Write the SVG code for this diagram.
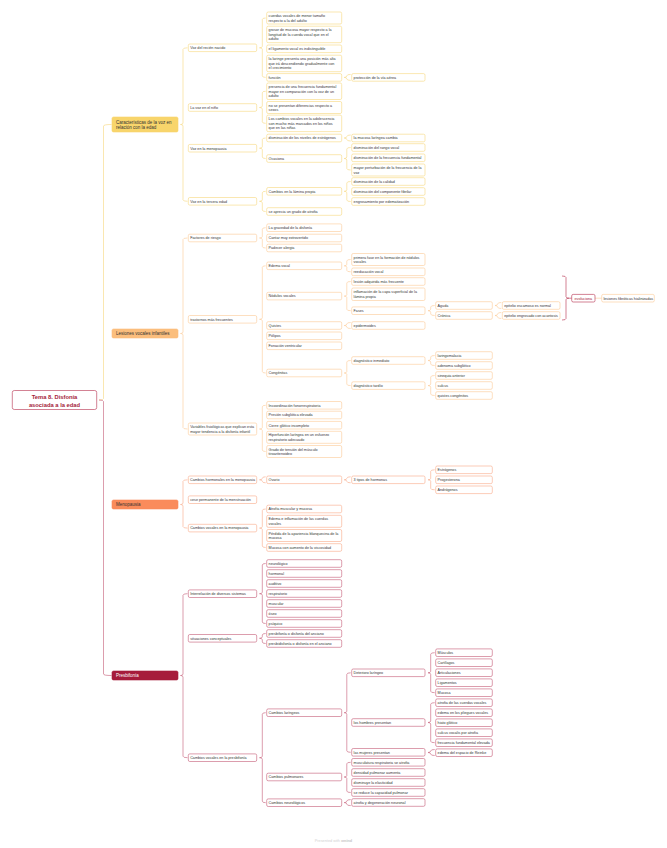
<svg xmlns="http://www.w3.org/2000/svg" width="667" height="848" viewBox="0 0 667 848">
<style>
.t{font-family:"Liberation Sans",Arial,sans-serif;font-size:3.7px;fill:#333}
.t1{font-family:"Liberation Sans",Arial,sans-serif;font-size:4.5px;fill:#333}
.tr{font-family:"Liberation Sans",Arial,sans-serif;font-size:5.8px;font-weight:bold;fill:#a51d3a}
rect{stroke-width:.6}
.by{fill:#fff;stroke:#f6d67c}
.bp{fill:#fff;stroke:#fcc995}
.bo{fill:#fff;stroke:#f9aa88}
.bc{fill:#fff;stroke:#c55b75}
.ly,.lp,.lo,.lc,.lr{fill:none;stroke-width:.6}
.ly{stroke:#f6d67c}.lp{stroke:#fcc995}.lo{stroke:#f9aa88}.lc{stroke:#c55b75}.lr{stroke:#b52d4b}
</style>
<rect width="667" height="848" fill="#fff" stroke="none"/>
<g id="connectors">
<path class="ly" d="M111.5,124.5 Q103.5,124.5 103.5,126 L103.5,398.5 Q103.5,400 99,400"/>
<path class="lc" d="M99,400 Q103.5,400 103.5,401.5 L103.5,674 Q103.5,675.5 111.5,675.5"/>
<path class="ly" d="M187.5,47.8 Q183,47.8 183,49.3 L183,123 Q183,124.5 180.5,124.5 Q183,124.5 183,126 L183,199.8 Q183,201.3 187.5,201.3"/>
<path class="ly" d="M265.7,18 Q262.3,18 262.3,19.5 L262.3,46.3 Q262.3,47.8 259.5,47.8 Q262.3,47.8 262.3,49.3 L262.3,75.9 Q262.3,77.4 265.7,77.4"/>
<path class="ly" d="M265.7,91.25 Q262.3,91.25 262.3,92.75 L262.3,106 Q262.3,107.5 259.5,107.5 Q262.3,107.5 262.3,109 L262.3,121.85 Q262.3,123.35 265.7,123.35"/>
<path class="ly" d="M265.7,138 Q262.3,138 262.3,139.5 L262.3,146.7 Q262.3,148.2 259.5,148.2 Q262.3,148.2 262.3,149.7 L262.3,157 Q262.3,158.5 265.7,158.5"/>
<path class="ly" d="M265.7,191.3 Q262.3,191.3 262.3,192.8 L262.3,199.8 Q262.3,201.3 259.5,201.3 Q262.3,201.3 262.3,202.8 L262.3,210 Q262.3,211.5 265.7,211.5"/>
<path class="ly" d="M350.7,74.4 Q346.8,74.4 346.8,75.9 L346.8,75.9 Q346.8,77.4 344.2,77.4 Q346.8,77.4 346.8,78.9 L346.8,78.9 Q346.8,80.4 350.7,80.4"/>
<path class="ly" d="M350.7,135 Q346.8,135 346.8,136.5 L346.8,136.5 Q346.8,138 344.2,138 Q346.8,138 346.8,139.5 L346.8,139.5 Q346.8,141 350.7,141"/>
<path class="ly" d="M350.7,147.5 Q346.8,147.5 346.8,149 L346.8,157 Q346.8,158.5 344.2,158.5 Q346.8,158.5 346.8,160 L346.8,168.5 Q346.8,170 350.7,170"/>
<path class="ly" d="M350.7,181.5 Q346.8,181.5 346.8,183 L346.8,189.8 Q346.8,191.3 344.2,191.3 Q346.8,191.3 346.8,192.8 L346.8,200 Q346.8,201.5 350.7,201.5"/>
<path class="lp" d="M187.5,238 Q183,238 183,239.5 L183,332 Q183,333.5 180.5,333.5 Q183,333.5 183,335 L183,427.5 Q183,429 187.5,429"/>
<path class="lp" d="M265.7,227.7 Q262.3,227.7 262.3,229.2 L262.3,236.5 Q262.3,238 259.5,238 Q262.3,238 262.3,239.5 L262.3,246.5 Q262.3,248 265.7,248"/>
<path class="lp" d="M265.7,265.8 Q262.3,265.8 262.3,267.3 L262.3,317.8 Q262.3,319.3 259.5,319.3 Q262.3,319.3 262.3,320.8 L262.3,371.5 Q262.3,373 265.7,373"/>
<path class="lp" d="M265.7,405.3 Q262.3,405.3 262.3,406.8 L262.3,427.5 Q262.3,429 259.5,429 Q262.3,429 262.3,430.5 L262.3,450 Q262.3,451.5 265.7,451.5"/>
<path class="lp" d="M350.7,259.5 Q346.8,259.5 346.8,261 L346.8,264.3 Q346.8,265.8 344.2,265.8 Q346.8,265.8 346.8,267.3 L346.8,270.3 Q346.8,271.8 350.7,271.8"/>
<path class="lp" d="M350.7,281.5 Q346.8,281.5 346.8,283 L346.8,294.6 Q346.8,296.1 344.2,296.1 Q346.8,296.1 346.8,297.6 L346.8,309.2 Q346.8,310.7 350.7,310.7"/>
<path class="lp" d="M350.7,322.5 Q346.8,322.5 346.8,324 L346.8,324 Q346.8,325.5 344.2,325.5 Q346.8,325.5 346.8,327 L346.8,327 Q346.8,328.5 350.7,328.5"/>
<path class="lp" d="M350.7,360.5 Q346.8,360.5 346.8,362 L346.8,371.5 Q346.8,373 344.2,373 Q346.8,373 346.8,374.5 L346.8,384.1 Q346.8,385.6 350.7,385.6"/>
<path class="lp" d="M434.7,305.5 Q430.7,305.5 430.7,307 L430.7,309.2 Q430.7,310.7 428,310.7 Q430.7,310.7 430.7,312.2 L430.7,314 Q430.7,315.5 434.7,315.5"/>
<path class="lp" d="M434.7,355.5 Q430.7,355.5 430.7,357 L430.7,359 Q430.7,360.5 428,360.5 Q430.7,360.5 430.7,362 L430.7,364 Q430.7,365.5 434.7,365.5"/>
<path class="lp" d="M434.7,375.5 Q430.7,375.5 430.7,377 L430.7,384.1 Q430.7,385.6 428,385.6 Q430.7,385.6 430.7,387.1 L430.7,394 Q430.7,395.5 434.7,395.5"/>
<path class="lp" d="M501.3,302.5 Q497.6,302.5 497.6,304 L497.6,304 Q497.6,305.5 495,305.5 Q497.6,305.5 497.6,307 L497.6,307 Q497.6,308.5 501.3,308.5"/>
<path class="lp" d="M501.3,312.5 Q497.6,312.5 497.6,314 L497.6,314 Q497.6,315.5 495,315.5 Q497.6,315.5 497.6,317 L497.6,317 Q497.6,318.5 501.3,318.5"/>
<path class="lr" d="M562,276 Q566,276 566,277.5 L566,296.7 Q566,298.2 569,298.2 Q566,298.2 566,299.7 L566,318.5 Q566,320 562,320"/>
<path class="lr" d="M569,298.2 L571.7,298.2"/>
<path class="lp" d="M595,298.2 L601.7,298.2"/>
<path class="lo" d="M187.5,479.8 Q183,479.8 183,481.3 L183,503 Q183,504.5 180.5,504.5 Q183,504.5 183,506 L183,526.6 Q183,528.1 187.5,528.1"/>
<path class="lo" d="M265.7,476.8 Q262.3,476.8 262.3,478.3 L262.3,478.3 Q262.3,479.8 259.5,479.8 Q262.3,479.8 262.3,481.3 L262.3,481.3 Q262.3,482.8 265.7,482.8"/>
<path class="lo" d="M265.7,509 Q262.3,509 262.3,510.5 L262.3,526.6 Q262.3,528.1 259.5,528.1 Q262.3,528.1 262.3,529.6 L262.3,546 Q262.3,547.5 265.7,547.5"/>
<path class="lo" d="M350.7,476.8 Q346.8,476.8 346.8,478.3 L346.8,478.3 Q346.8,479.8 344.2,479.8 Q346.8,479.8 346.8,481.3 L346.8,481.3 Q346.8,482.8 350.7,482.8"/>
<path class="lo" d="M434.7,469.8 Q430.7,469.8 430.7,471.3 L430.7,478.3 Q430.7,479.8 428,479.8 Q430.7,479.8 430.7,481.3 L430.7,488.3 Q430.7,489.8 434.7,489.8"/>
<path class="lc" d="M187.5,593.7 Q183,593.7 183,595.2 L183,674 Q183,675.5 180.5,675.5 Q183,675.5 183,677 L183,756.2 Q183,757.7 187.5,757.7"/>
<path class="lc" d="M265.7,563.5 Q262.3,563.5 262.3,565 L262.3,592.2 Q262.3,593.7 259.5,593.7 Q262.3,593.7 262.3,595.2 L262.3,622 Q262.3,623.5 265.7,623.5"/>
<path class="lc" d="M265.7,633.5 Q262.3,633.5 262.3,635 L262.3,636.8 Q262.3,638.3 259.5,638.3 Q262.3,638.3 262.3,639.8 L262.3,642 Q262.3,643.5 265.7,643.5"/>
<path class="lc" d="M265.7,712.7 Q262.3,712.7 262.3,714.2 L262.3,756.2 Q262.3,757.7 259.5,757.7 Q262.3,757.7 262.3,759.2 L262.3,801.2 Q262.3,802.7 265.7,802.7"/>
<path class="lc" d="M350.7,672.8 Q346.8,672.8 346.8,674.3 L346.8,711.2 Q346.8,712.7 344.2,712.7 Q346.8,712.7 346.8,714.2 L346.8,750.8 Q346.8,752.3 350.7,752.3"/>
<path class="lc" d="M350.7,762.3 Q346.8,762.3 346.8,763.8 L346.8,775.5 Q346.8,777 344.2,777 Q346.8,777 346.8,778.5 L346.8,791 Q346.8,792.5 350.7,792.5"/>
<path class="lc" d="M350.7,799.6 Q346.8,799.6 346.8,801.1 L346.8,801.1 Q346.8,802.6 344.2,802.6 Q346.8,802.6 346.8,804.1 L346.8,804.1 Q346.8,805.6 350.7,805.6"/>
<path class="lc" d="M434.7,652.7 Q430.7,652.7 430.7,654.2 L430.7,671.3 Q430.7,672.8 428,672.8 Q430.7,672.8 430.7,674.3 L430.7,691.2 Q430.7,692.7 434.7,692.7"/>
<path class="lc" d="M434.7,702.7 Q430.7,702.7 430.7,704.2 L430.7,721 Q430.7,722.5 428,722.5 Q430.7,722.5 430.7,724 L430.7,741.2 Q430.7,742.7 434.7,742.7"/>
<path class="lc" d="M434.7,749.5 Q430.7,749.5 430.7,751 L430.7,751 Q430.7,752.5 428,752.5 Q430.7,752.5 430.7,754 L430.7,754 Q430.7,755.5 434.7,755.5"/>
</g>
<g id="root"><rect x="12.3" y="390.5" width="84.4" height="19" rx="2" fill="#fff" stroke="#b52d4b" stroke-width=".8"/><text class="tr" text-anchor="middle"><tspan x="54.5" y="399.3">Tema 8. Disfonía</tspan><tspan x="54.5" y="406.6">asociada a la edad</tspan></text></g>
<g id="n-caract"><rect x="112" y="117" width="66" height="15" rx="1.5" fill="#f8d56b" stroke="#f8d56b"/><text class="t1"><tspan x="116" y="123.8">Características de la voz en</tspan><tspan x="116" y="128.5">relación con la edad</tspan></text></g>
<g id="n-lesiones"><rect x="112" y="329" width="66" height="9" rx="1.5" fill="#fbbe7d" stroke="#fbbe7d"/><text class="t1" x="116" y="335.1">Lesiones vocales infantiles</text></g>
<g id="n-menopausia"><rect x="112" y="500" width="66" height="9" rx="1.5" fill="#fa8b5b" stroke="#fa8b5b"/><text class="t1" x="116" y="506.1">Menopausia</text></g>
<g id="n-presbifonia"><rect x="112" y="671" width="66" height="9" rx="1.5" fill="#a61c3b" stroke="#a61c3b"/><text class="t1" x="116" y="677.1" style="fill:#fff">Presbifonía</text></g>
<g id="y2-1"><rect class="by" x="188.3" y="44" width="68.4" height="7.6" rx="1.5"/><text class="t" x="190.2" y="49.1">Voz del recién nacido</text></g>
<g id="y2-2"><rect class="by" x="188.3" y="103.7" width="68.4" height="7.6" rx="1.5"/><text class="t" x="190.2" y="108.8">La voz en el niño</text></g>
<g id="y2-3"><rect class="by" x="188.3" y="144.4" width="68.4" height="7.6" rx="1.5"/><text class="t" x="190.2" y="149.5">Voz en la menopausia</text></g>
<g id="y2-4"><rect class="by" x="188.3" y="197.5" width="68.4" height="7.6" rx="1.5"/><text class="t" x="190.2" y="202.6">Voz en la tercera edad</text></g>
<g id="y3-1"><rect class="by" x="266.7" y="12" width="75" height="12" rx="1.5"/><text class="t"><tspan x="268.6" y="17.1">cuerdas vocales de menor tamaño</tspan><tspan x="268.6" dy="4.5">respecto a la del adulto</tspan></text></g>
<g id="y3-2"><rect class="by" x="266.7" y="26.2" width="75" height="16.5" rx="1.5"/><text class="t"><tspan x="268.6" y="31.3">grosor de mucosa mayor respecto a la</tspan><tspan x="268.6" dy="4.5">longitud de la cuerda vocal que en el</tspan><tspan x="268.6" dy="4.5">adulto</tspan></text></g>
<g id="y3-3"><rect class="by" x="266.7" y="45" width="75" height="7.6" rx="1.5"/><text class="t" x="268.6" y="50.1">el ligamento vocal es indistinguible</text></g>
<g id="y3-4"><rect class="by" x="266.7" y="55.2" width="75" height="16.5" rx="1.5"/><text class="t"><tspan x="268.6" y="60.3">la laringe presenta una posición más alta</tspan><tspan x="268.6" dy="4.5">que irá descendiendo gradualmente con</tspan><tspan x="268.6" dy="4.5">el crecimiento</tspan></text></g>
<g id="y3-5"><rect class="by" x="266.7" y="73.6" width="75" height="7.6" rx="1.5"/><text class="t" x="268.6" y="78.7">función</text></g>
<g id="y3-6"><rect class="by" x="266.7" y="83" width="75" height="16.5" rx="1.5"/><text class="t"><tspan x="268.6" y="88.1">presencia de una frecuencia fundamental</tspan><tspan x="268.6" dy="4.5">mayor en comparación con la voz de un</tspan><tspan x="268.6" dy="4.5">adulto</tspan></text></g>
<g id="y3-7"><rect class="by" x="266.7" y="101.5" width="75" height="12" rx="1.5"/><text class="t"><tspan x="268.6" y="106.6">no se presentan diferencias respecto a</tspan><tspan x="268.6" dy="4.5">sexos</tspan></text></g>
<g id="y3-8"><rect class="by" x="266.7" y="115.1" width="75" height="16.5" rx="1.5"/><text class="t"><tspan x="268.6" y="120.2">Los cambios vocales en la adolescencia</tspan><tspan x="268.6" dy="4.5">son mucho más marcados en los niños</tspan><tspan x="268.6" dy="4.5">que en las niñas</tspan></text></g>
<g id="y3-9"><rect class="by" x="266.7" y="134.2" width="75" height="7.6" rx="1.5"/><text class="t" x="268.6" y="139.3">disminución de los niveles de estrógenos</text></g>
<g id="y3-10"><rect class="by" x="266.7" y="154.7" width="75" height="7.6" rx="1.5"/><text class="t" x="268.6" y="159.8">Ocasiona</text></g>
<g id="y3-11"><rect class="by" x="266.7" y="187.5" width="75" height="7.6" rx="1.5"/><text class="t" x="268.6" y="192.6">Cambios en la lámina propia</text></g>
<g id="y3-12"><rect class="by" x="266.7" y="207.7" width="75" height="7.6" rx="1.5"/><text class="t" x="268.6" y="212.8">se aprecia un grado de atrofia</text></g>
<g id="y4-1"><rect class="by" x="351.7" y="73.6" width="73.3" height="7.6" rx="1.5"/><text class="t" x="353.6" y="78.7">protección de la vía aérea</text></g>
<g id="y4-2"><rect class="by" x="351.7" y="134.2" width="73.3" height="7.6" rx="1.5"/><text class="t" x="353.6" y="139.3">la mucosa laríngea cambia</text></g>
<g id="y4-3"><rect class="by" x="351.7" y="143.7" width="73.3" height="7.6" rx="1.5"/><text class="t" x="353.6" y="148.8">disminución del rango vocal</text></g>
<g id="y4-4"><rect class="by" x="351.7" y="154" width="73.3" height="7.6" rx="1.5"/><text class="t" x="353.6" y="159.1">disminución de la frecuencia fundamental</text></g>
<g id="y4-5"><rect class="by" x="351.7" y="164" width="73.3" height="12" rx="1.5"/><text class="t"><tspan x="353.6" y="169.1">mayor perturbación de la frecuencia de la</tspan><tspan x="353.6" dy="4.5">voz</tspan></text></g>
<g id="y4-6"><rect class="by" x="351.7" y="177.7" width="73.3" height="7.6" rx="1.5"/><text class="t" x="353.6" y="182.8">disminución de la calidad</text></g>
<g id="y4-7"><rect class="by" x="351.7" y="187.7" width="73.3" height="7.6" rx="1.5"/><text class="t" x="353.6" y="192.8">disminución del componente fibrilar</text></g>
<g id="y4-8"><rect class="by" x="351.7" y="197.7" width="73.3" height="7.6" rx="1.5"/><text class="t" x="353.6" y="202.8">engrosamiento por edematización</text></g>
<g id="p2-1"><rect class="bp" x="188.3" y="234.2" width="68.4" height="7.6" rx="1.5"/><text class="t" x="190.2" y="239.3">Factores de riesgo</text></g>
<g id="p2-2"><rect class="bp" x="188.3" y="315.5" width="68.4" height="7.6" rx="1.5"/><text class="t" x="190.2" y="320.6">trastornos más frecuentes</text></g>
<g id="p2-3"><rect class="bp" x="188.3" y="423" width="68.4" height="12" rx="1.5"/><text class="t"><tspan x="190.2" y="428.1">Variables fisiológicas que explican esta</tspan><tspan x="190.2" dy="4.5">mayor tendencia a la disfonía infantil</tspan></text></g>
<g id="p3-1"><rect class="bp" x="266.7" y="223.9" width="75" height="7.6" rx="1.5"/><text class="t" x="268.6" y="229">La gravedad de la disfonía</text></g>
<g id="p3-2"><rect class="bp" x="266.7" y="234.2" width="75" height="7.6" rx="1.5"/><text class="t" x="268.6" y="239.3">Cantar muy extrovertido</text></g>
<g id="p3-3"><rect class="bp" x="266.7" y="244.2" width="75" height="7.6" rx="1.5"/><text class="t" x="268.6" y="249.3">Padecer alergia</text></g>
<g id="p3-4"><rect class="bp" x="266.7" y="262" width="75" height="7.6" rx="1.5"/><text class="t" x="268.6" y="267.1">Edema vocal</text></g>
<g id="p3-5"><rect class="bp" x="266.7" y="292.3" width="75" height="7.6" rx="1.5"/><text class="t" x="268.6" y="297.4">Nódulos vocales</text></g>
<g id="p3-6"><rect class="bp" x="266.7" y="321.7" width="75" height="7.6" rx="1.5"/><text class="t" x="268.6" y="326.8">Quistes</text></g>
<g id="p3-7"><rect class="bp" x="266.7" y="332" width="75" height="7.6" rx="1.5"/><text class="t" x="268.6" y="337.1">Pólipos</text></g>
<g id="p3-8"><rect class="bp" x="266.7" y="342" width="75" height="7.6" rx="1.5"/><text class="t" x="268.6" y="347.1">Fonación ventricular</text></g>
<g id="p3-9"><rect class="bp" x="266.7" y="369.2" width="75" height="7.6" rx="1.5"/><text class="t" x="268.6" y="374.3">Congénitas</text></g>
<g id="p3-10"><rect class="bp" x="266.7" y="401.5" width="75" height="7.6" rx="1.5"/><text class="t" x="268.6" y="406.6">Incoordinación fonorrespiratoria</text></g>
<g id="p3-11"><rect class="bp" x="266.7" y="411.2" width="75" height="7.6" rx="1.5"/><text class="t" x="268.6" y="416.3">Presión subglótica elevada</text></g>
<g id="p3-12"><rect class="bp" x="266.7" y="421.4" width="75" height="7.6" rx="1.5"/><text class="t" x="268.6" y="426.5">Cierre glótico incompleto</text></g>
<g id="p3-13"><rect class="bp" x="266.7" y="431.3" width="75" height="12" rx="1.5"/><text class="t"><tspan x="268.6" y="436.4">Hiperfunción laríngea en un esfuerzo</tspan><tspan x="268.6" dy="4.5">respiratorio adecuado</tspan></text></g>
<g id="p3-14"><rect class="bp" x="266.7" y="445.5" width="75" height="12" rx="1.5"/><text class="t"><tspan x="268.6" y="450.6">Grado de tensión del músculo</tspan><tspan x="268.6" dy="4.5">tiroaritenoideo</tspan></text></g>
<g id="p4-1"><rect class="bp" x="351.7" y="253.5" width="73.3" height="12" rx="1.5"/><text class="t"><tspan x="353.6" y="258.6">primera fase en la formación de nódulos</tspan><tspan x="353.6" dy="4.5">vocales</tspan></text></g>
<g id="p4-2"><rect class="bp" x="351.7" y="268" width="73.3" height="7.6" rx="1.5"/><text class="t" x="353.6" y="273.1">reeducación vocal</text></g>
<g id="p4-3"><rect class="bp" x="351.7" y="277.7" width="73.3" height="7.6" rx="1.5"/><text class="t" x="353.6" y="282.8">lesión adquirida más frecuente</text></g>
<g id="p4-4"><rect class="bp" x="351.7" y="288" width="73.3" height="12.5" rx="1.5"/><text class="t"><tspan x="353.6" y="293.3">inflamación de la capa superficial de la</tspan><tspan x="353.6" dy="4.5">lámina propia</tspan></text></g>
<g id="p4-5"><rect class="bp" x="351.7" y="306.9" width="73.3" height="7.6" rx="1.5"/><text class="t" x="353.6" y="312">Fases</text></g>
<g id="p4-6"><rect class="bp" x="351.7" y="321.7" width="73.3" height="7.6" rx="1.5"/><text class="t" x="353.6" y="326.8">epidermoides</text></g>
<g id="p4-7"><rect class="bp" x="351.7" y="356.7" width="73.3" height="7.6" rx="1.5"/><text class="t" x="353.6" y="361.8">diagnóstico inmediato</text></g>
<g id="p4-8"><rect class="bp" x="351.7" y="381.8" width="73.3" height="7.6" rx="1.5"/><text class="t" x="353.6" y="386.9">diagnóstico tardío</text></g>
<g id="p5-1"><rect class="bp" x="435.7" y="301.7" width="56.6" height="7.6" rx="1.5"/><text class="t" x="437.6" y="306.8">Aguda</text></g>
<g id="p5-2"><rect class="bp" x="435.7" y="311.7" width="56.6" height="7.6" rx="1.5"/><text class="t" x="437.6" y="316.8">Crónica</text></g>
<g id="p5-3"><rect class="bp" x="435.7" y="351.7" width="56.6" height="7.6" rx="1.5"/><text class="t" x="437.6" y="356.8">laringomalacia</text></g>
<g id="p5-4"><rect class="bp" x="435.7" y="361.7" width="56.6" height="7.6" rx="1.5"/><text class="t" x="437.6" y="366.8">adenoma subglótico</text></g>
<g id="p5-5"><rect class="bp" x="435.7" y="371.7" width="56.6" height="7.6" rx="1.5"/><text class="t" x="437.6" y="376.8">sinequia anterior</text></g>
<g id="p5-6"><rect class="bp" x="435.7" y="381.7" width="56.6" height="7.6" rx="1.5"/><text class="t" x="437.6" y="386.8">sulcus</text></g>
<g id="p5-7"><rect class="bp" x="435.7" y="391.7" width="56.6" height="7.6" rx="1.5"/><text class="t" x="437.6" y="396.8">quistes congénitos</text></g>
<g id="p6-1"><rect class="bp" x="502.3" y="301.7" width="57.7" height="7.6" rx="1.5"/><text class="t" x="504.2" y="306.8">epitelio escamoso es normal</text></g>
<g id="p6-2"><rect class="bp" x="502.3" y="311.7" width="57.7" height="7.6" rx="1.5"/><text class="t" x="504.2" y="316.8">epitelio engrosado con acantosis</text></g>
<g id="s-evoluciona"><rect x="571.7" y="294.4" width="23.3" height="7.6" rx="1.5" fill="#fff" stroke="#b52d4b" stroke-width=".7"/><text class="t" x="583.35" y="299.5" text-anchor="middle" style="fill:#a51d3a">evoluciona</text></g>
<g id="s-lesiones"><rect class="bp" x="601.7" y="294.4" width="52.6" height="7.6" rx="1.5"/><text class="t" x="603.5" y="299.5">lesiones fibróticas hialinizadas</text></g>
<g id="o2-1"><rect class="bo" x="188.3" y="476" width="68.4" height="7.6" rx="1.5"/><text class="t" x="190" y="481.1">Cambios hormonales en la menopausia</text></g>
<g id="o2-2"><rect class="bo" x="188.3" y="495.9" width="68.4" height="7.6" rx="1.5"/><text class="t" x="190.2" y="501">cese permanente de la menstruación</text></g>
<g id="o2-3"><rect class="bo" x="188.3" y="524.3" width="68.4" height="7.6" rx="1.5"/><text class="t" x="190.2" y="529.4">Cambios vocales en la menopausia</text></g>
<g id="o3-1"><rect class="bo" x="266.7" y="476" width="75" height="7.6" rx="1.5"/><text class="t" x="268.6" y="481.1">Ovario</text></g>
<g id="o3-2"><rect class="bo" x="266.7" y="505.2" width="75" height="7.6" rx="1.5"/><text class="t" x="268.6" y="510.3">Atrofia muscular y mucosa</text></g>
<g id="o3-3"><rect class="bo" x="266.7" y="515.3" width="75" height="12" rx="1.5"/><text class="t"><tspan x="268.6" y="520.4">Edema e inflamación de las cuerdas</tspan><tspan x="268.6" dy="4.5">vocales</tspan></text></g>
<g id="o3-4"><rect class="bo" x="266.7" y="529.5" width="75" height="12" rx="1.5"/><text class="t"><tspan x="268.6" y="534.6">Pérdida de la apariencia blanquecina de la</tspan><tspan x="268.6" dy="4.5">mucosa</tspan></text></g>
<g id="o3-5"><rect class="bo" x="266.7" y="543.7" width="75" height="7.6" rx="1.5"/><text class="t" x="268.6" y="548.8">Mucosa con aumento de la viscosidad</text></g>
<g id="o4-1"><rect class="bo" x="351.7" y="476" width="73.3" height="7.6" rx="1.5"/><text class="t" x="353.6" y="481.1">3 tipos de hormonas</text></g>
<g id="o5-1"><rect class="bo" x="435.7" y="466" width="56.6" height="7.6" rx="1.5"/><text class="t" x="437.6" y="471.1">Estrógenos</text></g>
<g id="o5-2"><rect class="bo" x="435.7" y="476" width="56.6" height="7.6" rx="1.5"/><text class="t" x="437.6" y="481.1">Progesterona</text></g>
<g id="o5-3"><rect class="bo" x="435.7" y="486" width="56.6" height="7.6" rx="1.5"/><text class="t" x="437.6" y="491.1">Andrógenos</text></g>
<g id="c2-1"><rect class="bc" x="188.3" y="589.9" width="68.4" height="7.6" rx="1.5"/><text class="t" x="190.2" y="595">Interrelación de diversos sistemas</text></g>
<g id="c2-2"><rect class="bc" x="188.3" y="634.5" width="68.4" height="7.6" rx="1.5"/><text class="t" x="190.2" y="639.6">situaciones conceptuales</text></g>
<g id="c2-3"><rect class="bc" x="188.3" y="753.9" width="68.4" height="7.6" rx="1.5"/><text class="t" x="190.2" y="759">Cambios vocales en la presbifonía</text></g>
<g id="c3-1"><rect class="bc" x="266.7" y="559.7" width="75" height="7.6" rx="1.5"/><text class="t" x="268.6" y="564.8">neurológico</text></g>
<g id="c3-2"><rect class="bc" x="266.7" y="569.7" width="75" height="7.6" rx="1.5"/><text class="t" x="268.6" y="574.8">hormonal</text></g>
<g id="c3-3"><rect class="bc" x="266.7" y="579.7" width="75" height="7.6" rx="1.5"/><text class="t" x="268.6" y="584.8">auditivo</text></g>
<g id="c3-4"><rect class="bc" x="266.7" y="589.7" width="75" height="7.6" rx="1.5"/><text class="t" x="268.6" y="594.8">respiratorio</text></g>
<g id="c3-5"><rect class="bc" x="266.7" y="599.7" width="75" height="7.6" rx="1.5"/><text class="t" x="268.6" y="604.8">muscular</text></g>
<g id="c3-6"><rect class="bc" x="266.7" y="609.7" width="75" height="7.6" rx="1.5"/><text class="t" x="268.6" y="614.8">óseo</text></g>
<g id="c3-7"><rect class="bc" x="266.7" y="619.7" width="75" height="7.6" rx="1.5"/><text class="t" x="268.6" y="624.8">psíquico</text></g>
<g id="c3-8"><rect class="bc" x="266.7" y="629.7" width="75" height="7.6" rx="1.5"/><text class="t" x="268.6" y="634.8">presbifonía o disfonía del anciano</text></g>
<g id="c3-9"><rect class="bc" x="266.7" y="639.7" width="75" height="7.6" rx="1.5"/><text class="t" x="268.6" y="644.8">presbidisfonía o disfonía en el anciano</text></g>
<g id="c3-10"><rect class="bc" x="266.7" y="708.9" width="75" height="7.6" rx="1.5"/><text class="t" x="268.6" y="714">Cambios laríngeos</text></g>
<g id="c3-11"><rect class="bc" x="266.7" y="773.2" width="75" height="7.6" rx="1.5"/><text class="t" x="268.6" y="778.3">Cambios pulmonares</text></g>
<g id="c3-12"><rect class="bc" x="266.7" y="798.9" width="75" height="7.6" rx="1.5"/><text class="t" x="268.6" y="804">Cambios neurológicos</text></g>
<g id="c4-1"><rect class="bc" x="351.7" y="669" width="73.3" height="7.6" rx="1.5"/><text class="t" x="353.6" y="674.1">Deterioro laríngeo</text></g>
<g id="c4-2"><rect class="bc" x="351.7" y="718.7" width="73.3" height="7.6" rx="1.5"/><text class="t" x="353.6" y="723.8">los hombres presentan</text></g>
<g id="c4-3"><rect class="bc" x="351.7" y="748.5" width="73.3" height="7.6" rx="1.5"/><text class="t" x="353.6" y="753.6">las mujeres presentan</text></g>
<g id="c4-4"><rect class="bc" x="351.7" y="758.5" width="73.3" height="7.6" rx="1.5"/><text class="t" x="353.6" y="763.6">musculatura respiratoria se atrofia</text></g>
<g id="c4-5"><rect class="bc" x="351.7" y="768.7" width="73.3" height="7.6" rx="1.5"/><text class="t" x="353.6" y="773.8">densidad pulmonar aumenta</text></g>
<g id="c4-6"><rect class="bc" x="351.7" y="778.7" width="73.3" height="7.6" rx="1.5"/><text class="t" x="353.6" y="783.8">disminuye la elasticidad</text></g>
<g id="c4-7"><rect class="bc" x="351.7" y="788.7" width="73.3" height="7.6" rx="1.5"/><text class="t" x="353.6" y="793.8">se reduce la capacidad pulmonar</text></g>
<g id="c4-8"><rect class="bc" x="351.7" y="798.7" width="73.3" height="7.6" rx="1.5"/><text class="t" x="353.6" y="803.8">atrofia y degeneración neuronal</text></g>
<g id="c5-1"><rect class="bc" x="435.7" y="648.9" width="56.6" height="7.6" rx="1.5"/><text class="t" x="437.6" y="654">Músculos</text></g>
<g id="c5-2"><rect class="bc" x="435.7" y="658.9" width="56.6" height="7.6" rx="1.5"/><text class="t" x="437.6" y="664">Cartílagos</text></g>
<g id="c5-3"><rect class="bc" x="435.7" y="668.9" width="56.6" height="7.6" rx="1.5"/><text class="t" x="437.6" y="674">Articulaciones</text></g>
<g id="c5-4"><rect class="bc" x="435.7" y="678.9" width="56.6" height="7.6" rx="1.5"/><text class="t" x="437.6" y="684">Ligamentos</text></g>
<g id="c5-5"><rect class="bc" x="435.7" y="688.9" width="56.6" height="7.6" rx="1.5"/><text class="t" x="437.6" y="694">Mucosa</text></g>
<g id="c5-6"><rect class="bc" x="435.7" y="698.9" width="56.6" height="7.6" rx="1.5"/><text class="t" x="437.6" y="704">atrofia de las cuerdas vocales</text></g>
<g id="c5-7"><rect class="bc" x="435.7" y="708.9" width="56.6" height="7.6" rx="1.5"/><text class="t" x="437.6" y="714">edema en los pliegues vocales</text></g>
<g id="c5-8"><rect class="bc" x="435.7" y="718.9" width="56.6" height="7.6" rx="1.5"/><text class="t" x="437.6" y="724">hiato glótico</text></g>
<g id="c5-9"><rect class="bc" x="435.7" y="728.9" width="56.6" height="7.6" rx="1.5"/><text class="t" x="437.6" y="734">sulcus vocalis por atrofia</text></g>
<g id="c5-10"><rect class="bc" x="435.7" y="738.9" width="56.6" height="7.6" rx="1.5"/><text class="t" x="437.6" y="744">frecuencia fundamental elevada</text></g>
<g id="c5-11"><rect class="bc" x="435.7" y="748.9" width="56.6" height="7.6" rx="1.5"/><text class="t" x="437.6" y="754">edema del espacio de Reinke</text></g>
<text x="333.5" y="842" text-anchor="middle" font-family="Liberation Sans, Arial, sans-serif" font-size="3.8" fill="#d2d2d2">Presented with <tspan font-weight="bold" fill="#c6c6c6">xmind</tspan></text>
</svg>
